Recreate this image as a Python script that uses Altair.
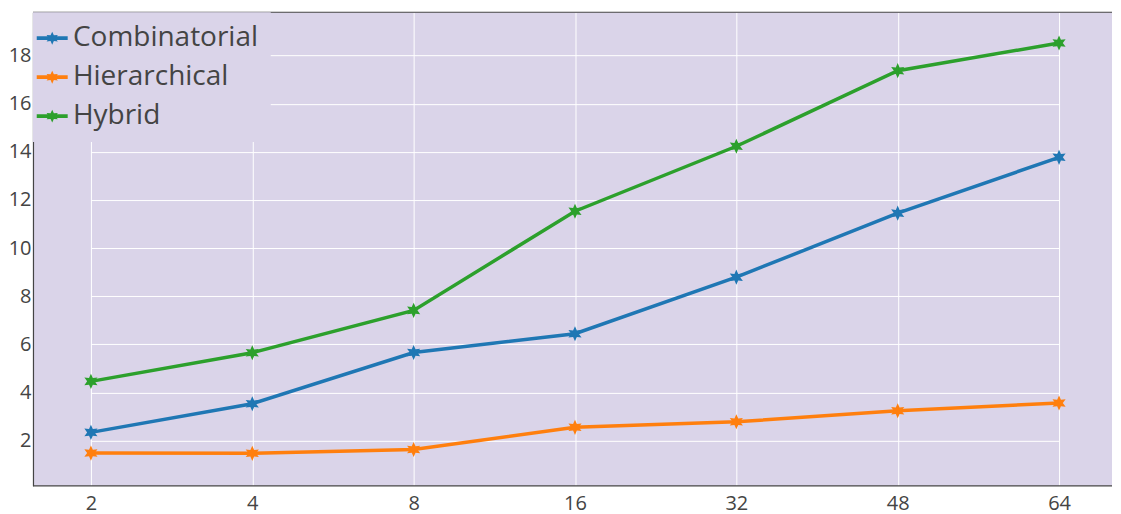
import math
import altair as alt
import pandas as pd

# ---- data ----
x_labels = ["2", "4", "8", "16", "32", "48", "64"]
series_names = ["Combinatorial", "Hierarchical", "Hybrid"]
combinatorial = [2.34, 3.53, 5.66, 6.44, 8.79, 11.45, 13.77]
hierarchical = [1.48, 1.47, 1.63, 2.55, 2.78, 3.24, 3.56]
hybrid = [4.46, 5.65, 7.41, 11.53, 14.23, 17.37, 18.52]
y_ticks = [2, 4, 6, 8, 10, 12, 14, 16, 18]
series_colors = ["#1f77b4", "#ff7f0e", "#2ca02c"]

BG = "#dad4e9"
AXIS = "#444444"
FONT = "Open Sans"

rows = []
for name, vals in zip(series_names, [combinatorial, hierarchical, hybrid]):
    for xl, v in zip(x_labels, vals):
        rows.append({"x": xl, "series": name, "value": v})
df = pd.DataFrame(rows)


def star_path(cx, cy, r_out, r_in, n=6):
    pts = []
    for k in range(2 * n):
        ang = -math.pi / 2 + k * math.pi / n
        r = r_out if k % 2 == 0 else r_in
        pts.append((cx + r * math.cos(ang), cy + r * math.sin(ang)))
    return "M" + "L".join(f"{px:.3f},{py:.3f}" for px, py in pts) + "Z"


marker_path = star_path(0, 0, 1.0, 0.5)
# legend symbol: unit = 12.25 px (symbolSize 600)
sh = -0.551
hl = 1.265
ht = 0.155
legend_path = (
    f"M{sh - hl:.3f},{-ht:.3f}L{sh + hl:.3f},{-ht:.3f}L{sh + hl:.3f},{ht:.3f}L{sh - hl:.3f},{ht:.3f}Z"
    + star_path(sh, 0, 0.53, 0.27)
)

W, H = 1080, 474
color_scale = alt.Scale(domain=series_names, range=series_colors)

x_enc = alt.X(
    "x:O",
    sort=x_labels,
    scale=alt.Scale(type="point", range=[58, 1027], padding=0),
    axis=alt.Axis(
        title=None, labelAngle=0, ticks=False, grid=True, gridColor="white",
        gridWidth=1, domain=False,
        labelFont=FONT, labelFontSize=20, labelColor=AXIS, labelPadding=8,
    ),
)
y_enc = alt.Y(
    "value:Q",
    scale=alt.Scale(domain=[0.12, 19.8], nice=False, zero=False),
    axis=alt.Axis(
        title=None, values=y_ticks, ticks=False, grid=True, gridColor="white",
        gridWidth=1, domain=True, domainColor=AXIS, domainWidth=1.2,
        labelFont=FONT, labelFontSize=20, labelColor=AXIS, labelPadding=2,
    ),
)

base = alt.Chart(df).encode(x=x_enc, y=y_enc)

lines = base.mark_line(strokeWidth=3.5).encode(
    color=alt.Color("series:N", scale=color_scale, legend=None)
)
points = base.mark_point(
    shape=marker_path, size=230, filled=True, opacity=1, strokeWidth=0
).encode(
    color=alt.Color(
        "series:N",
        scale=color_scale,
        legend=alt.Legend(
            orient="none", legendX=0, legendY=0, title=None,
            symbolType=legend_path, symbolSize=600, symbolStrokeWidth=0,
            symbolOpacity=1,
            labelFont=FONT, labelFontSize=28, labelColor=AXIS, labelLimit=400,
            labelOffset=0, padding=12, rowPadding=11, fillColor=BG,
        ),
    )
)
dummy = pd.DataFrame({"a": [0]})
top_line = alt.Chart(dummy).mark_rule(color=AXIS, strokeWidth=1.2).encode(y=alt.value(0))
bottom_line = alt.Chart(dummy).mark_rule(color=AXIS, strokeWidth=1.2).encode(y=alt.value(H))

chart = (
    alt.layer(lines, points, top_line, bottom_line)
    .resolve_legend(color="independent")
    .properties(
        width=W, height=H, background="white",
        padding={"left": 0, "top": 3, "right": 0, "bottom": 0},
    )
    .configure_view(fill=BG, stroke=None)
)

chart.save("out.html", embed_options={"renderer": "svg", "actions": False})
